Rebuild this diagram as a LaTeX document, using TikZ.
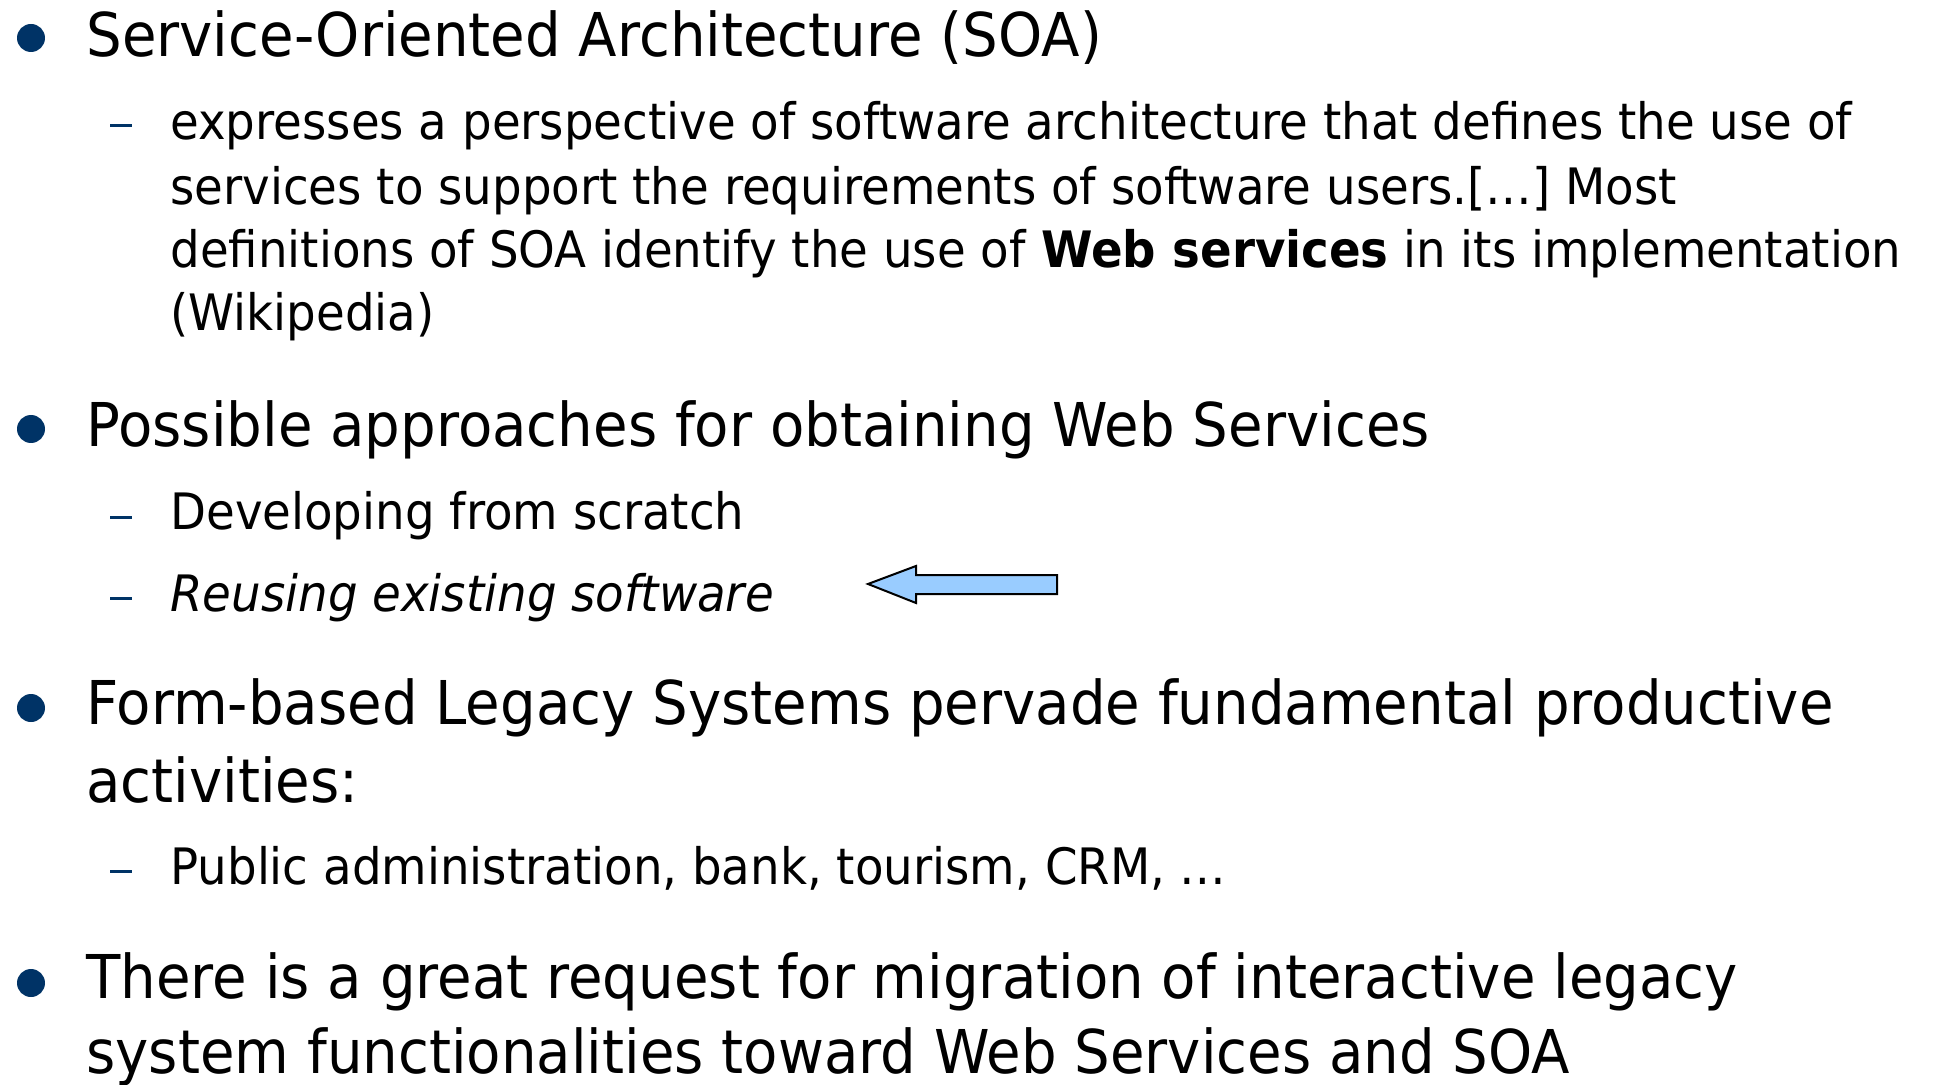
\documentclass[tikz,border=0pt]{standalone}
\usepackage{fontspec}
\setmainfont{DejaVu Sans}[FakeStretch=0.93]
\usepackage{tikz}
\definecolor{slideblue}{RGB}{0, 51, 102}
\definecolor{arrowblue}{RGB}{153, 204, 255}

\tikzset{
  lvlone/.style={anchor=base west, inner sep=0pt, font=\fontsize{30.2}{36}\selectfont},
  lvltwo/.style={anchor=base west, inner sep=0pt, font=\fontsize{25.1}{31}\selectfont}
}

\begin{document}
\begin{tikzpicture}[x=0.5pt, y=-0.5pt]
    \useasboundingbox (0,0) rectangle (1933,1085);

    %% bullets and dashes
    \foreach \y in {38,429,708,983} \fill[slideblue] (31,\y) circle[radius=14];
    \foreach \y in {126,517,598,871} \draw[slideblue, line width=1.5pt] (110,\y) -- (132,\y);

    %% first item
    \node[lvlone] (soa) at (86,57) {Service-Oriented Architecture (SOA)};
    \node[lvltwo] (defa) at (170,140) {expresses a perspective of software architecture that defines the use of};
    \node[lvltwo] (defb) at (170,205) {services to support the requirements of software users.[…] Most};
    \node[lvltwo] (defc) at (170,268) {definitions of SOA identify the use of \textbf{Web services} in its implementation};
    \node[lvltwo] (defd) at (170,331) {(Wikipedia)};

    %% second item
    \node[lvlone] (appr) at (86,447) {Possible approaches for obtaining Web Services};
    \node[lvltwo] (scratch) at (170,530) {Developing from scratch};
    \node[lvltwo] (reuse) at (170,611) {\textit{Reusing existing software}};

    %% block arrow
    \draw[fill=arrowblue, line width=1pt, line join=miter]
      (868,584) -- (916,566) -- (916,575) -- (1057,575) -- (1057,594)
      -- (916,594) -- (916,603) -- cycle;

    %% third item
    \node[lvlone] (legacy) at (86,724) {Form-based Legacy Systems pervade fundamental productive};
    \node[lvlone] (activ) at (86,802) {activities:};
    \node[lvltwo] (domains) at (170,884) {Public administration, bank, tourism, CRM, …};

    %% fourth item
    \node[lvlone] (requ) at (86,998) {There is a great request for migration of interactive legacy};
    \node[lvlone] (migr) at (86,1073) {system functionalities toward Web Services and SOA};
\end{tikzpicture}
\end{document}
